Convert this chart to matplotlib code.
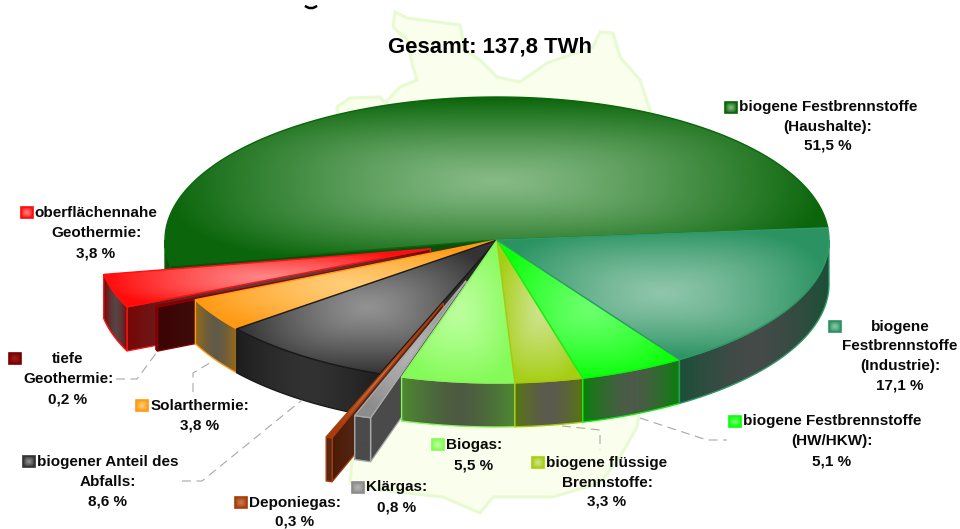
import numpy as np
import matplotlib
matplotlib.use('Agg')
import matplotlib.pyplot as plt
from matplotlib.patches import Polygon

plt.rcParams['font.family'] = ['Liberation Sans', 'DejaVu Sans']

# clockwise from the right hand edge of the pie
names = ['Industrie', 'HW/HKW', 'fluessig', 'Biogas', 'Klaergas', 'Deponiegas',
         'Abfall', 'Solar', 'tiefe', 'oberflaeche', 'Haushalte']
shares = [17.1, 5.1, 3.3, 5.5, 0.8, 0.3, 8.6, 3.8, 0.2, 3.8, 51.5]
title = 'Gesamt: 137,8 TWh'

label_lines = {
    'Haushalte': ['biogene Festbrennstoffe', '(Haushalte):', '51,5 %'],
    'Industrie': ['biogene', 'Festbrennstoffe', '(Industrie):', '17,1 %'],
    'HW/HKW': ['biogene Festbrennstoffe', '(HW/HKW):', '5,1 %'],
    'fluessig': ['biogene flüssige', 'Brennstoffe:', '3,3 %'],
    'Biogas': ['Biogas:', '5,5 %'],
    'Klaergas': ['Klärgas:', '0,8 %'],
    'Deponiegas': ['Deponiegas:', '0,3 %'],
    'Abfall': ['biogener Anteil des', 'Abfalls:', '8,6 %'],
    'Solar': ['Solarthermie:', '3,8 %'],
    'tiefe': ['tiefe', 'Geothermie:', '0,2 %'],
    'oberflaeche': ['oberflächennahe', 'Geothermie:', '3,8 %'],
}

# pie geometry in picture pixels
CX, CY = 497, 240
RX, RY = 332, 143
DEPTH = 44
START = 4.9

explode = {'Klaergas': 0.30, 'Deponiegas': 0.47, 'tiefe': 0.125, 'oberflaeche': 0.21}

# top outer, top centre, wall outer, wall centre, outline
colors = {
    'Haushalte': ('#0b660b', '#86ba86', '#0b4f0b', '#0b4f0b', '#0b660b'),
    'Industrie': ('#2b9362', '#8fc6ab', '#1c4f37', '#454a49', '#2e9a68'),
    'HW/HKW': ('#0cff0c', '#6cff6c', '#0b7f0b', '#4d5a49', '#10f010'),
    'fluessig': ('#a6cf14', '#cde38a', '#58760f', '#5c5a50', '#a8c810'),
    'Biogas': ('#84fb58', '#bcff9e', '#4c8a30', '#4d5a42', '#8cf060'),
    'Klaergas': ('#8c8c8c', '#b4b4b4', '#4a4a4a', '#4a4a4a', '#a8a8a8'),
    'Deponiegas': ('#a83d0c', '#c87a50', '#4a1c08', '#5a2c1c', '#a83d0c'),
    'Abfall': ('#333333', '#929292', '#1e1e1e', '#323232', '#1a1a1a'),
    'Solar': ('#ff9a14', '#ffcd78', '#9a6a14', '#5e5a4a', '#ff9a14'),
    'tiefe': ('#7c0000', '#9c2020', '#3c0404', '#44181a', '#8a0000'),
    'oberflaeche': ('#ff0c0c', '#ff8686', '#760808', '#584444', '#ff1010'),
}

paint_order = ['Haushalte', 'oberflaeche', 'tiefe', 'Solar', 'Abfall', 'Deponiegas',
               'Klaergas', 'Biogas', 'fluessig', 'HW/HKW', 'Industrie']

# swatch left, top, then text centre x and the y of every line
label_pos = {
    'Haushalte': (725, 102, 828, [107, 127, 146]),
    'Industrie': (829, 321, 900, [327, 346, 366, 385]),
    'HW/HKW': (729, 416, 832, [421, 441, 461]),
    'fluessig': (532, 457, 607, [463, 483, 502]),
    'Biogas': (432, 439, 474, [445, 465]),
    'Klaergas': (352, 482, 397, [487, 507]),
    'Deponiegas': (235, 497, 295, [503, 522]),
    'Abfall': (23, 456, 108, [462, 482, 501]),
    'Solar': (136, 400, 200, [406, 426]),
    'tiefe': (9, 353, 68, [359, 379, 399]),
    'oberflaeche': (21, 207, 96, [213, 233, 253]),
}

leaders = [
    ([116, 137, 157], [379, 379, 352]),
    ([193, 193, 213], [392, 373, 361]),
    ([182, 202, 302], [481, 481, 400]),
    ([562, 600, 600], [426, 430, 450]),
    ([640, 707, 727], [418, 440, 440]),
]

# faint map of Germany behind the pie
map_x = [337, 350, 380, 385, 400, 417, 413, 407, 393, 395, 407, 460, 465, 480, 497, 520, 547,
         593, 600, 613, 620, 640, 650, 660, 650, 637, 620, 600, 553, 493, 480, 443, 380, 350, 352]
map_y = [107, 98, 97, 103, 87, 80, 67, 40, 27, 12, 18, 25, 50, 60, 77, 82, 63,
         47, 32, 33, 57, 80, 110, 250, 350, 427, 457, 483, 497, 497, 513, 497, 490, 483, 460]


def shaded(ax, xs, ys, outer, inner, line=None, walls=False, lw=1.0, zorder=2):
    x0, x1, y0, y1 = min(xs), max(xs), min(ys), max(ys)
    u, v = np.meshgrid(np.linspace(-1, 1, 80), np.linspace(-1, 1, 80))
    if walls:
        t = np.abs(u) ** 1.5
    else:
        t = np.clip((np.abs(u) ** 3 + np.abs(v) ** 3) ** (1 / 3), 0, 1) ** 1.25
    a = np.array(matplotlib.colors.to_rgb(outer))
    b = np.array(matplotlib.colors.to_rgb(inner))
    img = b + (a - b) * t[..., None]
    im = ax.imshow(img, extent=(x0, max(x1, x0 + 1), max(y1, y0 + 1), y0), aspect='auto',
                   interpolation='bilinear', zorder=zorder)
    poly = Polygon(np.column_stack([xs, ys]), closed=True, transform=ax.transData,
                   fc='none', ec=line if line else 'none', lw=lw, zorder=zorder)
    ax.add_patch(poly)
    im.set_clip_path(poly)


def draw_slice(ax, name, hi, lo):
    top_o, top_i, wall_o, wall_i, line = colors[name]
    e = explode.get(name, 0)
    mid = np.radians((hi + lo) / 2)
    ox = CX + e * RX * np.cos(mid)
    oy = CY - e * RY * np.sin(mid)
    th = np.radians(np.linspace(hi, lo, 200))
    ax_x = ox + RX * np.cos(th)
    ax_y = oy - RY * np.sin(th)

    # cut face that looks towards the viewer
    if np.cos(th[0]) < 0:
        xs = [ox, ax_x[0], ax_x[0], ox]
        ys = [oy, ax_y[0], ax_y[0] + DEPTH, oy + DEPTH]
        shaded(ax, xs, ys, wall_o, wall_i, line=line, walls=True, lw=0.9)

    low = np.sin(th) <= 0
    if low.sum() > 1:
        xs = np.r_[ax_x[low], ax_x[low][::-1]]
        ys = np.r_[ax_y[low], ax_y[low][::-1] + DEPTH]
        shaded(ax, xs, ys, wall_o, wall_i, line=line, walls=True, lw=1.0)

    shaded(ax, np.r_[ox, ax_x], np.r_[oy, ax_y], top_o, top_i, line=line, lw=1.0)


def plot_chart():
    fig = plt.figure(figsize=(9.6, 5.29), dpi=100)
    ax = fig.add_axes([0, 0, 1, 1])
    ax.axis('off')

    ax.fill(map_x, map_y, fc='#fafeec', ec='#e8fad2', lw=2.2, zorder=1)

    angles = np.array(shares) / sum(shares) * 360
    cum = np.r_[0, np.cumsum(angles)]
    spans = {n: (START - cum[i], START - cum[i + 1]) for i, n in enumerate(names)}

    for n in paint_order:
        draw_slice(ax, n, *spans[n])

    for xs, ys in leaders:
        ax.plot(xs, ys, color='#a8a8a8', lw=0.8, dashes=(8, 5), zorder=3)

    for n in names:
        sx, sy, tx, tys = label_pos[n]
        c = colors[n]
        shaded(ax, [sx, sx + 12, sx + 12, sx], [sy, sy, sy + 11, sy + 11],
               c[0], c[1], line=c[0], lw=1.2, zorder=4)
        for line, y in zip(label_lines[n], tys):
            ax.text(tx, y, line, ha='center', va='center', fontsize=11,
                    fontweight='bold', color='#0a0a0a', zorder=5)

    ax.text(490, 47, title, ha='center', va='center', fontsize=15.9,
            fontweight='bold', color='black', zorder=5)
    # bottom of a letter from the heading that was cut off
    ax.plot([306, 309, 313, 316], [6.5, 8, 8, 6.5], color='black', lw=1.8, zorder=5)

    ax.set_xlim(0, 960)
    ax.set_ylim(529, 0)
    fig.savefig('out.png', dpi=100)


plot_chart()
